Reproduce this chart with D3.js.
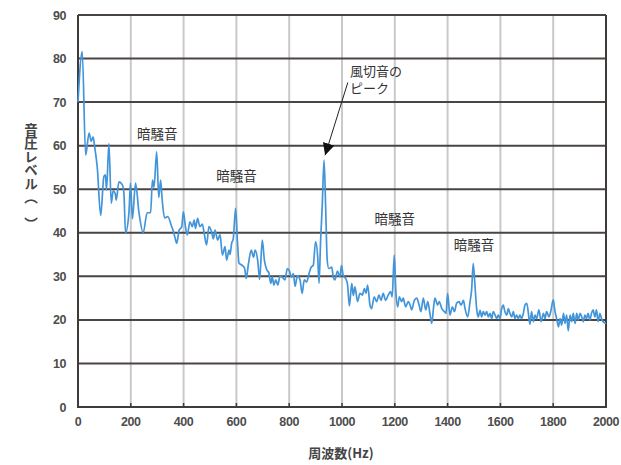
<!doctype html>
<html>
<head>
<meta charset="utf-8">
<title>音圧レベル</title>
<style>
  body { margin: 0; background: #fff; }
  text { font-family: "Liberation Sans", Arial, sans-serif; }
  .jp { font-family: "Noto Sans CJK JP", sans-serif; }
</style>
</head>
<body>
<div id="chart"></div>
<script src="https://d3js.org/d3.v7.min.js"></script>
<script>
// frequency (Hz) and sound pressure level
var freqHz = [0,16,29,42,50,57,63,73,86,98,104,108,117,126,133,141,145,155,168,174,180,193,199,206,218,231,247,262,275,282,288,298,306,313,319,328,
  340,355,360,367,374,383,393,399,407,414,424,433,440,445,453,462,471,479,487,496,506,513,519,529,538,547,557,563,572,576,582,588,597,604,610,620,631,637,646,656,665,
  671,681,688,698,706,715,723,730,736,742,749,757,765,774,784,793,801,809,816,822,831,841,849,857,866,875,883,891,900,908,913,919,925,932,938,944,950,961,967,973,983,992,998,1005,
  1014,1021,1028,1037,1043,1049,1059,1068,1077,1085,1091,1097,1106,1112,1122,1131,1140,1148,1156,1165,1175,1184,1190,1198,1204,1211,1217,1226,1232,1241,1251,1258,1264,1274,1283,1292,1299,1308,1317,1325,1333,1340,1347,
  1352,1362,1368,1378,1388,1394,1400,1409,1418,1426,1434,1443,1451,1460,1466,1476,1485,1491,1497,1504,1510,1516,1523,1529,1535,1542,1548,1554,1561,1567,1573,1580,1586,1592,1598,1605,1611,1617,1624,1630,1636,1643,1649,1655,1661,1668,1674,1680,1687,1693,1700,
  1706,1712,1718,1725,1731,1737,1746,1754,1763,1769,1775,1784,1792,1800,1807,1813,1820,1826,1832,1839,1845,1851,1857,1864,1870,1876,1883,1889,1895,1902,1908,1914,1920,1926,1932,1939,1945,1951,1958,1964,1970,1977,1983,1989,2000];
var levelDb = [70,81.6,57.8,62.9,61,62,59.8,55,44,52.9,53.3,49.8,60.5,46.8,49.6,49,47.5,51.7,51,49,40,44.7,51.4,43.2,51.4,44.6,40,44.6,44.6,52.1,50.5,58.6,48.1,52.1,47.5,43.4,
  43.7,41.4,40.6,39,37.6,40.6,41.4,44.8,41.4,39.5,42.5,41.4,42.9,41,43.3,41.4,42,39.5,37.2,41.4,40.2,38.6,40.6,38.3,39.6,34.9,36.8,33.7,36,35,37.6,38.6,45.6,38,33,32.6,31.9,29.5,33,36,34.4,
  36,33.5,29.3,38.3,33.7,31.5,30.8,28.4,29.8,28,29.2,28,30,29.8,29.2,31.8,31.2,29.8,30.6,27.7,30.1,29.2,26.1,29.2,28.7,30.6,32.1,32.5,38,34.4,28.4,38.3,46,56.7,46,33.7,31.8,32.1,29.8,29.2,31.2,29.8,32.5,30.1,
  29.5,28.1,23.2,28.4,25.6,27.6,24.2,26.1,25.7,27.2,26.1,28,23.4,22.6,25.3,24.2,25.7,24.5,26.1,24.5,25.7,26.5,25.3,34.9,26.5,23,25.3,24.2,25,23,24.2,23.4,22.3,24.5,25,23.4,21.9,25,22.3,24.2,21.5,19.2,23,
  25,23.4,24.2,22.6,21.9,21.5,26.1,21.1,23,21.9,23.8,24.2,23.4,24.5,22.6,20.7,24.2,26.9,33,27.6,22.6,20.7,22.2,20.7,21.9,21.1,21.9,20.7,21.5,20.3,21.9,21.1,20.3,21.1,20.3,22.6,23.4,21.9,21.1,22.6,21.5,20.7,21.9,20.3,21.1,20.3,21.1,20.3,21.5,23.4,23.8,
  21.5,19,21.9,19.6,21.1,20.3,22.3,19.6,21.5,20.3,21.9,20.7,22.3,24.6,21.9,20.3,18.4,20.3,18.8,21.5,19.2,21.1,17.5,21.1,19.6,21.5,19.2,21.5,20,21.5,20.7,19.6,21.1,20.3,21.5,20,21.5,22.3,20.7,22.3,19.6,21.5,20.3,19.6,19.2];

var xTicks = [0,200,400,600,800,1000,1200,1400,1600,1800,2000];
var yTicks = [0,10,20,30,40,50,60,70,80,90];

// annotation labels: [freq, level, text]
var noiseLabels = [[300, 61.5, "暗騒音"], [600, 52, "暗騒音"], [1200, 42, "暗騒音"], [1500, 36, "暗騒音"]];
var peakLabel = ["風切音の", "ピーク"];

var W = 621, H = 465;
var m = {left: 78, right: 15, top: 15, bottom: 58};

var svg = d3.select("#chart").append("svg").attr("width", W).attr("height", H);

var x = d3.scaleLinear().domain([0, 2000]).range([m.left, W - m.right]);
var y = d3.scaleLinear().domain([0, 90]).range([H - m.bottom, m.top]);

// vertical grid (light)
svg.append("g").selectAll("line").data(xTicks.slice(1, -1)).enter().append("line")
  .attr("x1", function(d){ return x(d); }).attr("x2", function(d){ return x(d); })
  .attr("y1", y(0)).attr("y2", y(90))
  .attr("stroke", "#c9c9c9").attr("stroke-width", 2);

// horizontal grid (dark)
svg.append("g").selectAll("line").data(yTicks.slice(1)).enter().append("line")
  .attr("x1", x(0)).attr("x2", x(2000))
  .attr("y1", function(d){ return y(d); }).attr("y2", function(d){ return y(d); })
  .attr("stroke", "#4a4543").attr("stroke-width", 2);

// little ticks on the bottom axis
svg.append("g").selectAll("line").data(xTicks).enter().append("line")
  .attr("x1", function(d){ return x(d); }).attr("x2", function(d){ return x(d); })
  .attr("y1", y(0)).attr("y2", y(0) - 4)
  .attr("stroke", "#3a3a3a").attr("stroke-width", 1.5);

// frame: left, bottom, right
svg.append("path")
  .attr("d", "M" + x(0) + "," + y(90) + "V" + y(0) + "H" + x(2000) + "V" + y(90))
  .attr("fill", "none").attr("stroke", "#3f3b39").attr("stroke-width", 2);

// the spectrum line
var pts = freqHz.map(function(f, i){ return [f, levelDb[i]]; });
var line = d3.line()
  .x(function(d){ return x(d[0]); })
  .y(function(d){ return y(d[1]); })
  .curve(d3.curveMonotoneX);
svg.append("path").datum(pts)
  .attr("d", line)
  .attr("fill", "none").attr("stroke", "#4395da").attr("stroke-width", 1.7)
  .attr("stroke-linejoin", "round");

// tick labels
svg.append("g").selectAll("text").data(yTicks).enter().append("text")
  .attr("x", x(0) - 12).attr("y", function(d){ return y(d); }).attr("dy", "0.36em")
  .attr("text-anchor", "end").attr("font-size", 12.5).attr("font-weight", "bold")
  .attr("fill", "#4d4d4d").attr("letter-spacing", -0.4)
  .text(function(d){ return d; });
svg.append("g").selectAll("text").data(xTicks).enter().append("text")
  .attr("x", function(d){ return x(d); }).attr("y", y(0) + 19)
  .attr("text-anchor", "middle").attr("font-size", 12.5).attr("font-weight", "bold")
  .attr("fill", "#4d4d4d").attr("letter-spacing", -0.4)
  .text(function(d){ return d; });

// axis titles
svg.append("text").attr("class", "jp")
  .attr("x", 341).attr("y", 458).attr("text-anchor", "middle")
  .attr("font-size", 13).attr("font-weight", "bold").attr("fill", "#444")
  .text("周波数(Hz)");
svg.append("text").attr("class", "jp")
  .attr("x", 31).attr("y", 123)
  .attr("font-size", 13.5).attr("font-weight", "bold").attr("fill", "#444")
  .style("writing-mode", "vertical-rl")
  .text("音圧レベル（　）");

// 暗騒音 labels
svg.append("g").selectAll("text").data(noiseLabels).enter().append("text")
  .attr("class", "jp")
  .attr("x", function(d){ return x(d[0]); }).attr("y", function(d){ return y(d[1]); })
  .attr("text-anchor", "middle").attr("font-size", 13.5).attr("fill", "#333")
  .text(function(d){ return d[2]; });

// peak callout
svg.append("g").selectAll("text").data(peakLabel).enter().append("text")
  .attr("class", "jp")
  .attr("x", x(1030)).attr("y", function(d, i){ return y(76) + i * 17.5; })
  .attr("font-size", 13).attr("fill", "#333")
  .text(function(d){ return d; });

svg.append("defs").append("marker")
  .attr("id", "head").attr("viewBox", "0 0 10 10").attr("refX", 10).attr("refY", 5)
  .attr("markerWidth", 12).attr("markerHeight", 12).attr("markerUnits", "userSpaceOnUse")
  .attr("orient", "auto")
  .append("path").attr("d", "M0,0L10,5L0,10Z").attr("fill", "#111");
svg.append("line")
  .attr("x1", x(1022)).attr("y1", y(74.5))
  .attr("x2", x(936)).attr("y2", y(57.8))
  .attr("stroke", "#222").attr("stroke-width", 1)
  .attr("marker-end", "url(#head)");
</script>
</body>
</html>
